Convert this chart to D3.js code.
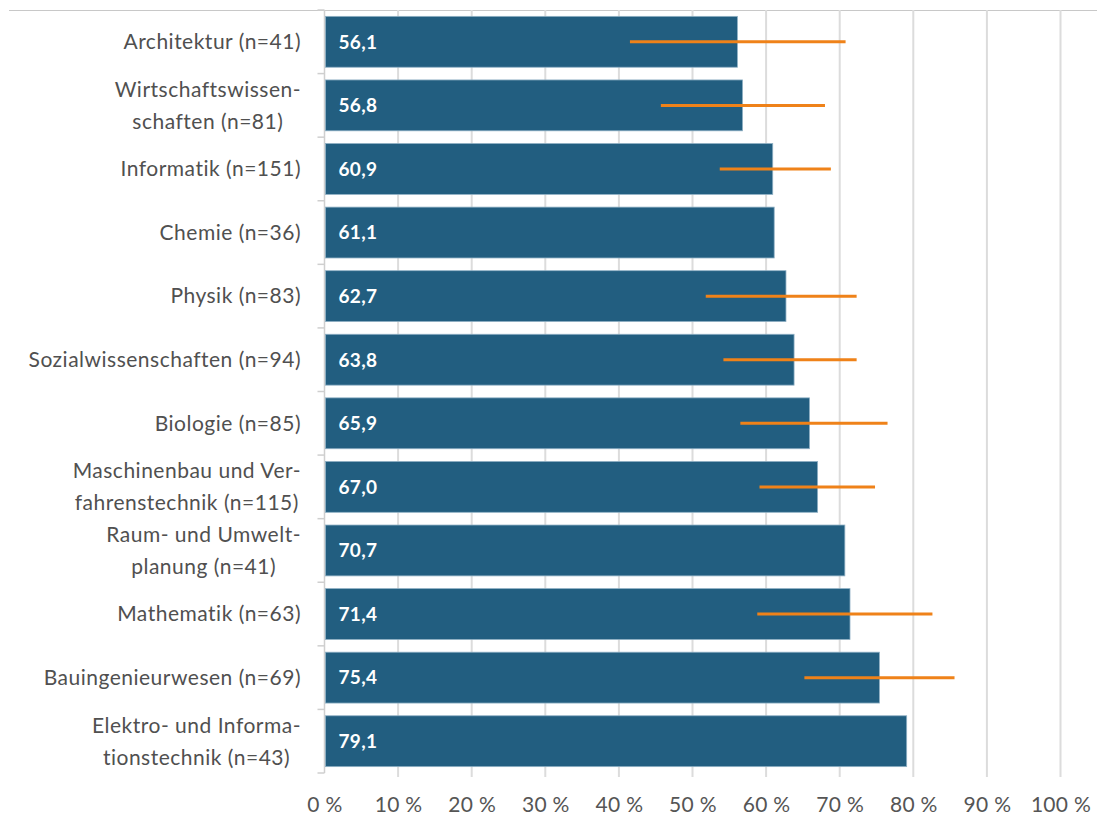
<!DOCTYPE html>
<html>
<head>
<meta charset="utf-8">
<script src="https://cdn.jsdelivr.net/npm/d3@7"></script>
<style>
  html, body { margin: 0; padding: 0; background: #fff; }
  svg { display: block; }
</style>
</head>
<body>
<svg id="chart" width="1097" height="818"></svg>
<script>
// ---- data ----
const categories = [
  "Architektur (n=41)",
  "Wirtschaftswissen-\nschaften (n=81)",
  "Informatik (n=151)",
  "Chemie (n=36)",
  "Physik (n=83)",
  "Sozialwissenschaften (n=94)",
  "Biologie (n=85)",
  "Maschinenbau und Ver-\nfahrenstechnik (n=115)",
  "Raum- und Umwelt-\nplanung (n=41)",
  "Mathematik (n=63)",
  "Bauingenieurwesen (n=69)",
  "Elektro- und Informa-\ntionstechnik (n=43)"
];
const values = [56.1, 56.8, 60.9, 61.1, 62.7, 63.8, 65.9, 67.0, 70.7, 71.4, 75.4, 79.1];
const errLow  = [41.5, 45.7, 53.7, null, 51.8, 54.2, 56.5, 59.1, null, 58.8, 65.2, null];
const errHigh = [70.8, 68.0, 68.8, null, 72.3, 72.3, 76.5, 74.8, null, 82.6, 85.6, null];
const xTicks = [0, 10, 20, 30, 40, 50, 60, 70, 80, 90, 100];
const xTickLabels = ["0 %", "10 %", "20 %", "30 %", "40 %", "50 %", "60 %", "70 %", "80 %", "90 %", "100 %"];

// ---- layout ----
const svg = d3.select("#chart");
const plotLeft = 324.5, plotRight = 1060.5, plotTop = 10, plotBottom = 773;
const FONT = "Lato, 'Open Sans', sans-serif";

const x = d3.scaleLinear().domain([0, 100]).range([plotLeft, plotRight]);
const y = d3.scaleBand().domain(d3.range(categories.length)).range([plotTop, plotBottom])
  .paddingInner(0.2).paddingOuter(0.1);

// top border line
svg.append("line")
  .attr("x1", 9).attr("x2", 1097).attr("y1", plotTop + 0.5).attr("y2", plotTop + 0.5)
  .attr("stroke", "#c8c8c8").attr("stroke-width", 1);

// vertical gridlines (with small tick below)
svg.append("g").selectAll("line").data(xTicks.slice(1)).join("line")
  .attr("x1", d => x(d)).attr("x2", d => x(d))
  .attr("y1", plotTop).attr("y2", plotBottom + 4)
  .attr("stroke", "#dcdcdc").attr("stroke-width", 2);

// x tick labels via axis
const xAxis = d3.axisBottom(x).tickValues(xTicks)
  .tickFormat((d, i) => xTickLabels[i]).tickSize(0).tickPadding(0);
const gx = svg.append("g").attr("transform", `translate(0,${plotBottom})`).call(xAxis);
gx.select(".domain").remove();
gx.selectAll("text")
  .attr("y", 39).attr("dy", 0)
  .attr("font-family", FONT).attr("font-size", 21)
  .attr("letter-spacing", "0.3px")
  .attr("fill", "#555");

// y axis line and boundary ticks
svg.append("line")
  .attr("x1", plotLeft).attr("x2", plotLeft).attr("y1", plotTop).attr("y2", plotBottom)
  .attr("stroke", "#cfcfcf").attr("stroke-width", 1.5);
const step = y.step();
const bounds = d3.range(categories.length + 1).map(i => plotTop + i * step);
svg.append("g").selectAll("line").data(bounds).join("line")
  .attr("x1", plotLeft - 7).attr("x2", plotLeft)
  .attr("y1", d => d).attr("y2", d => d)
  .attr("stroke", "#cfcfcf").attr("stroke-width", 1.5);

// bars
svg.append("g").selectAll("rect").data(values).join("rect")
  .attr("x", x(0) + 1)
  .attr("y", (d, i) => y(i))
  .attr("width", d => x(d) - x(0) - 1)
  .attr("height", y.bandwidth())
  .attr("fill", "#225E80")
  .attr("stroke", "#8fb0c4").attr("stroke-width", 0.8);

// value labels
svg.append("g").selectAll("text").data(values).join("text")
  .attr("x", plotLeft + 14)
  .attr("y", (d, i) => y(i) + y.bandwidth() / 2)
  .attr("dy", "0.36em")
  .attr("font-family", FONT).attr("font-size", 19).attr("font-weight", 700)
  .attr("letter-spacing", "0.3px")
  .attr("fill", "#fff")
  .text(d => d3.format(".1f")(d).replace(".", ","));

// error lines
const errIdx = d3.range(values.length).filter(i => errLow[i] != null);
svg.append("g").selectAll("line").data(errIdx).join("line")
  .attr("x1", i => x(errLow[i])).attr("x2", i => x(errHigh[i]))
  .attr("y1", i => y(i) + y.bandwidth() / 2)
  .attr("y2", i => y(i) + y.bandwidth() / 2)
  .attr("stroke", "#EF8219").attr("stroke-width", 3);

// category labels
const labelRight = 301;
const gl = svg.append("g");
categories.forEach((c, i) => {
  const lines = c.split("\n");
  const cy = y(i) + y.bandwidth() / 2;
  const lh = 32;
  const g = gl.append("g");
  const texts = lines.map((ln, k) =>
    g.append("text")
      .attr("y", cy + (k - (lines.length - 1) / 2) * lh)
      .attr("dy", "0.35em")
      .attr("font-family", FONT).attr("font-size", 21)
      .attr("letter-spacing", "0.5px")
      .attr("fill", "#505050")
      .text(ln));
  if (lines.length === 1) {
    texts[0].attr("x", labelRight).attr("text-anchor", "end");
  } else {
    const w = d3.max(texts, t => t.node().getComputedTextLength());
    texts.forEach(t => t.attr("x", labelRight - w / 2).attr("text-anchor", "middle"));
  }
});
</script>
</body>
</html>
